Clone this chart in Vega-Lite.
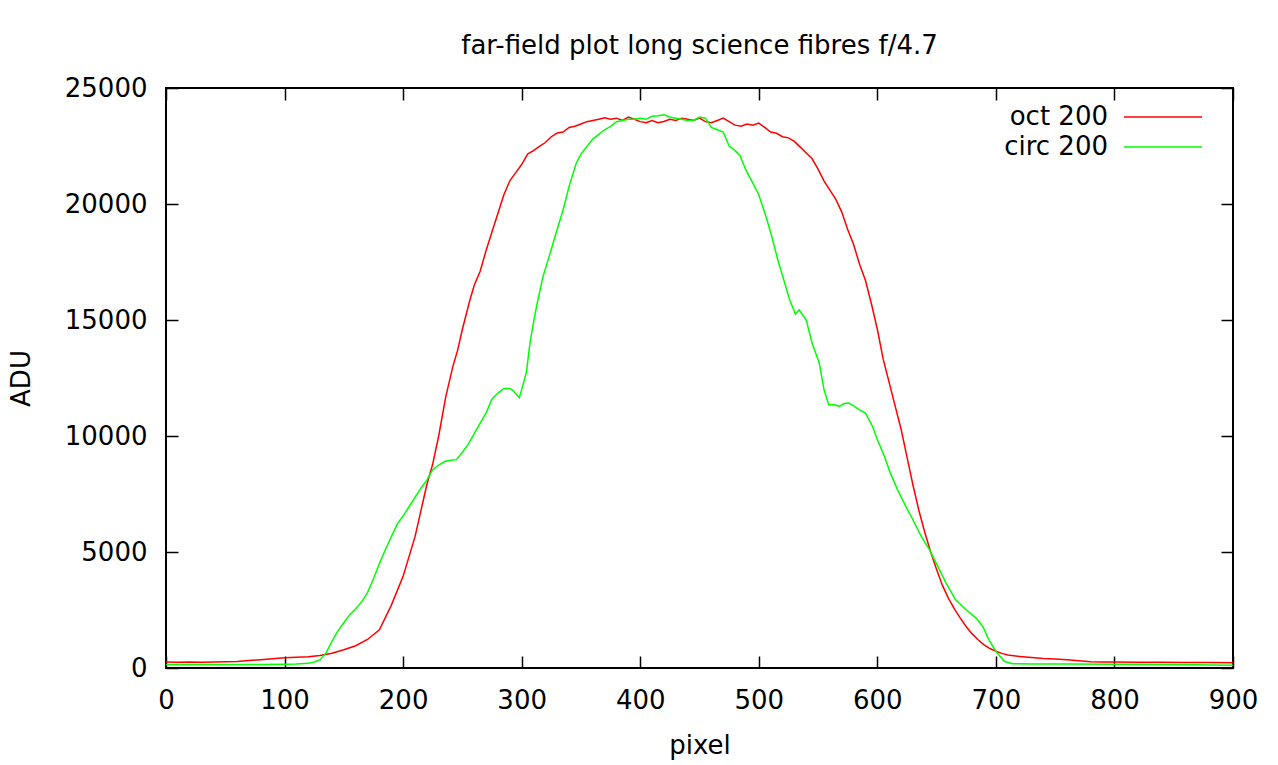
{
"$schema":"https://vega.github.io/schema/vega-lite/v6.json",
"width":1067,"height":580,
"autosize":{"type":"none"},
"padding":{"left":166,"top":88,"right":45,"bottom":97},
"background":"white",
"config":{"view":{"stroke":"black","strokeWidth":2},"font":"DejaVu Sans"},
"title":{"text":"far-field plot long science fibres f/4.7","fontSize":26,"font":"DejaVu Sans","fontWeight":"normal","color":"black","anchor":"middle","baseline":"alphabetic","offset":-5},
"data":{"values":[
{"p":0,"a":260,"s":"oct 200"},{"p":10,"a":250,"s":"oct 200"},{"p":20,"a":260,"s":"oct 200"},{"p":30,"a":250,"s":"oct 200"},{"p":40,"a":260,"s":"oct 200"},{"p":50,"a":270,"s":"oct 200"},{"p":60,"a":280,"s":"oct 200"},{"p":70,"a":320,"s":"oct 200"},{"p":80,"a":360,"s":"oct 200"},{"p":90,"a":400,"s":"oct 200"},{"p":100,"a":440,"s":"oct 200"},{"p":110,"a":460,"s":"oct 200"},{"p":120,"a":490,"s":"oct 200"},{"p":130,"a":540,"s":"oct 200"},{"p":140,"a":640,"s":"oct 200"},{"p":150,"a":790,"s":"oct 200"},{"p":160,"a":960,"s":"oct 200"},{"p":170,"a":1230,"s":"oct 200"},{"p":180,"a":1650,"s":"oct 200"},{"p":190,"a":2700,"s":"oct 200"},{"p":200,"a":3950,"s":"oct 200"},{"p":210,"a":5650,"s":"oct 200"},{"p":220,"a":7900,"s":"oct 200"},{"p":225,"a":8800,"s":"oct 200"},{"p":230,"a":10000,"s":"oct 200"},{"p":236,"a":11700,"s":"oct 200"},{"p":242,"a":13000,"s":"oct 200"},{"p":246,"a":13700,"s":"oct 200"},{"p":250,"a":14600,"s":"oct 200"},{"p":256,"a":15800,"s":"oct 200"},{"p":260,"a":16500,"s":"oct 200"},{"p":265,"a":17100,"s":"oct 200"},{"p":270,"a":18000,"s":"oct 200"},{"p":275,"a":18800,"s":"oct 200"},{"p":280,"a":19600,"s":"oct 200"},{"p":285,"a":20400,"s":"oct 200"},{"p":290,"a":21000,"s":"oct 200"},{"p":295,"a":21350,"s":"oct 200"},{"p":300,"a":21700,"s":"oct 200"},{"p":305,"a":22150,"s":"oct 200"},{"p":310,"a":22300,"s":"oct 200"},{"p":315,"a":22480,"s":"oct 200"},{"p":320,"a":22650,"s":"oct 200"},{"p":325,"a":22900,"s":"oct 200"},{"p":330,"a":23060,"s":"oct 200"},{"p":335,"a":23100,"s":"oct 200"},{"p":340,"a":23300,"s":"oct 200"},{"p":345,"a":23350,"s":"oct 200"},{"p":350,"a":23450,"s":"oct 200"},{"p":355,"a":23550,"s":"oct 200"},{"p":360,"a":23600,"s":"oct 200"},{"p":365,"a":23650,"s":"oct 200"},{"p":370,"a":23720,"s":"oct 200"},{"p":375,"a":23650,"s":"oct 200"},{"p":380,"a":23700,"s":"oct 200"},{"p":385,"a":23600,"s":"oct 200"},{"p":390,"a":23750,"s":"oct 200"},{"p":395,"a":23650,"s":"oct 200"},{"p":400,"a":23550,"s":"oct 200"},{"p":405,"a":23500,"s":"oct 200"},{"p":410,"a":23600,"s":"oct 200"},{"p":415,"a":23500,"s":"oct 200"},{"p":420,"a":23560,"s":"oct 200"},{"p":425,"a":23650,"s":"oct 200"},{"p":430,"a":23600,"s":"oct 200"},{"p":435,"a":23700,"s":"oct 200"},{"p":440,"a":23650,"s":"oct 200"},{"p":445,"a":23600,"s":"oct 200"},{"p":450,"a":23700,"s":"oct 200"},{"p":455,"a":23550,"s":"oct 200"},{"p":460,"a":23500,"s":"oct 200"},{"p":465,"a":23600,"s":"oct 200"},{"p":470,"a":23700,"s":"oct 200"},{"p":475,"a":23550,"s":"oct 200"},{"p":480,"a":23400,"s":"oct 200"},{"p":485,"a":23350,"s":"oct 200"},{"p":490,"a":23450,"s":"oct 200"},{"p":495,"a":23400,"s":"oct 200"},{"p":500,"a":23490,"s":"oct 200"},{"p":505,"a":23300,"s":"oct 200"},{"p":510,"a":23100,"s":"oct 200"},{"p":515,"a":23050,"s":"oct 200"},{"p":520,"a":22900,"s":"oct 200"},{"p":525,"a":22850,"s":"oct 200"},{"p":530,"a":22700,"s":"oct 200"},{"p":535,"a":22450,"s":"oct 200"},{"p":540,"a":22200,"s":"oct 200"},{"p":545,"a":21950,"s":"oct 200"},{"p":550,"a":21500,"s":"oct 200"},{"p":555,"a":21000,"s":"oct 200"},{"p":560,"a":20600,"s":"oct 200"},{"p":565,"a":20200,"s":"oct 200"},{"p":570,"a":19650,"s":"oct 200"},{"p":575,"a":18900,"s":"oct 200"},{"p":580,"a":18250,"s":"oct 200"},{"p":585,"a":17400,"s":"oct 200"},{"p":590,"a":16700,"s":"oct 200"},{"p":595,"a":15700,"s":"oct 200"},{"p":600,"a":14600,"s":"oct 200"},{"p":605,"a":13300,"s":"oct 200"},{"p":610,"a":12300,"s":"oct 200"},{"p":615,"a":11300,"s":"oct 200"},{"p":620,"a":10300,"s":"oct 200"},{"p":625,"a":9100,"s":"oct 200"},{"p":630,"a":7900,"s":"oct 200"},{"p":635,"a":6800,"s":"oct 200"},{"p":640,"a":5850,"s":"oct 200"},{"p":645,"a":5000,"s":"oct 200"},{"p":650,"a":4250,"s":"oct 200"},{"p":655,"a":3550,"s":"oct 200"},{"p":660,"a":3000,"s":"oct 200"},{"p":665,"a":2550,"s":"oct 200"},{"p":670,"a":2150,"s":"oct 200"},{"p":675,"a":1780,"s":"oct 200"},{"p":680,"a":1470,"s":"oct 200"},{"p":685,"a":1220,"s":"oct 200"},{"p":690,"a":1000,"s":"oct 200"},{"p":695,"a":840,"s":"oct 200"},{"p":700,"a":720,"s":"oct 200"},{"p":705,"a":630,"s":"oct 200"},{"p":710,"a":560,"s":"oct 200"},{"p":715,"a":530,"s":"oct 200"},{"p":720,"a":500,"s":"oct 200"},{"p":730,"a":450,"s":"oct 200"},{"p":740,"a":410,"s":"oct 200"},{"p":750,"a":390,"s":"oct 200"},{"p":760,"a":360,"s":"oct 200"},{"p":770,"a":310,"s":"oct 200"},{"p":780,"a":270,"s":"oct 200"},{"p":790,"a":260,"s":"oct 200"},{"p":800,"a":260,"s":"oct 200"},{"p":820,"a":250,"s":"oct 200"},{"p":840,"a":250,"s":"oct 200"},{"p":860,"a":240,"s":"oct 200"},{"p":880,"a":240,"s":"oct 200"},{"p":900,"a":230,"s":"oct 200"},
{"p":0,"a":150,"s":"circ 200"},{"p":20,"a":150,"s":"circ 200"},{"p":40,"a":150,"s":"circ 200"},{"p":60,"a":150,"s":"circ 200"},{"p":80,"a":150,"s":"circ 200"},{"p":100,"a":160,"s":"circ 200"},{"p":110,"a":170,"s":"circ 200"},{"p":120,"a":200,"s":"circ 200"},{"p":125,"a":260,"s":"circ 200"},{"p":130,"a":360,"s":"circ 200"},{"p":135,"a":650,"s":"circ 200"},{"p":140,"a":1150,"s":"circ 200"},{"p":145,"a":1600,"s":"circ 200"},{"p":150,"a":1950,"s":"circ 200"},{"p":155,"a":2300,"s":"circ 200"},{"p":160,"a":2550,"s":"circ 200"},{"p":165,"a":2850,"s":"circ 200"},{"p":170,"a":3250,"s":"circ 200"},{"p":175,"a":3850,"s":"circ 200"},{"p":180,"a":4500,"s":"circ 200"},{"p":185,"a":5100,"s":"circ 200"},{"p":190,"a":5650,"s":"circ 200"},{"p":195,"a":6200,"s":"circ 200"},{"p":200,"a":6550,"s":"circ 200"},{"p":205,"a":6950,"s":"circ 200"},{"p":210,"a":7350,"s":"circ 200"},{"p":215,"a":7750,"s":"circ 200"},{"p":220,"a":8100,"s":"circ 200"},{"p":225,"a":8550,"s":"circ 200"},{"p":230,"a":8750,"s":"circ 200"},{"p":235,"a":8900,"s":"circ 200"},{"p":240,"a":8950,"s":"circ 200"},{"p":245,"a":8980,"s":"circ 200"},{"p":250,"a":9300,"s":"circ 200"},{"p":255,"a":9650,"s":"circ 200"},{"p":260,"a":10100,"s":"circ 200"},{"p":265,"a":10550,"s":"circ 200"},{"p":270,"a":11000,"s":"circ 200"},{"p":275,"a":11600,"s":"circ 200"},{"p":280,"a":11850,"s":"circ 200"},{"p":285,"a":12050,"s":"circ 200"},{"p":290,"a":12050,"s":"circ 200"},{"p":293,"a":11950,"s":"circ 200"},{"p":298,"a":11650,"s":"circ 200"},{"p":300,"a":12000,"s":"circ 200"},{"p":304,"a":12750,"s":"circ 200"},{"p":307,"a":14000,"s":"circ 200"},{"p":310,"a":14900,"s":"circ 200"},{"p":313,"a":15700,"s":"circ 200"},{"p":318,"a":16880,"s":"circ 200"},{"p":323,"a":17700,"s":"circ 200"},{"p":329,"a":18750,"s":"circ 200"},{"p":335,"a":19750,"s":"circ 200"},{"p":340,"a":20760,"s":"circ 200"},{"p":346,"a":21760,"s":"circ 200"},{"p":350,"a":22150,"s":"circ 200"},{"p":354,"a":22410,"s":"circ 200"},{"p":360,"a":22800,"s":"circ 200"},{"p":365,"a":23000,"s":"circ 200"},{"p":370,"a":23200,"s":"circ 200"},{"p":375,"a":23350,"s":"circ 200"},{"p":380,"a":23550,"s":"circ 200"},{"p":385,"a":23600,"s":"circ 200"},{"p":390,"a":23650,"s":"circ 200"},{"p":395,"a":23650,"s":"circ 200"},{"p":400,"a":23700,"s":"circ 200"},{"p":405,"a":23650,"s":"circ 200"},{"p":410,"a":23780,"s":"circ 200"},{"p":415,"a":23800,"s":"circ 200"},{"p":420,"a":23850,"s":"circ 200"},{"p":425,"a":23750,"s":"circ 200"},{"p":430,"a":23700,"s":"circ 200"},{"p":435,"a":23650,"s":"circ 200"},{"p":440,"a":23600,"s":"circ 200"},{"p":445,"a":23600,"s":"circ 200"},{"p":450,"a":23750,"s":"circ 200"},{"p":455,"a":23700,"s":"circ 200"},{"p":460,"a":23300,"s":"circ 200"},{"p":465,"a":23200,"s":"circ 200"},{"p":470,"a":23100,"s":"circ 200"},{"p":475,"a":22500,"s":"circ 200"},{"p":480,"a":22300,"s":"circ 200"},{"p":484,"a":22100,"s":"circ 200"},{"p":489,"a":21480,"s":"circ 200"},{"p":495,"a":20900,"s":"circ 200"},{"p":500,"a":20400,"s":"circ 200"},{"p":506,"a":19470,"s":"circ 200"},{"p":511,"a":18600,"s":"circ 200"},{"p":516,"a":17600,"s":"circ 200"},{"p":521,"a":16740,"s":"circ 200"},{"p":526,"a":15870,"s":"circ 200"},{"p":531,"a":15250,"s":"circ 200"},{"p":534,"a":15440,"s":"circ 200"},{"p":540,"a":15000,"s":"circ 200"},{"p":545,"a":14000,"s":"circ 200"},{"p":551,"a":13150,"s":"circ 200"},{"p":555,"a":12000,"s":"circ 200"},{"p":559,"a":11350,"s":"circ 200"},{"p":564,"a":11350,"s":"circ 200"},{"p":568,"a":11280,"s":"circ 200"},{"p":572,"a":11400,"s":"circ 200"},{"p":576,"a":11420,"s":"circ 200"},{"p":580,"a":11300,"s":"circ 200"},{"p":585,"a":11130,"s":"circ 200"},{"p":590,"a":10990,"s":"circ 200"},{"p":596,"a":10410,"s":"circ 200"},{"p":600,"a":9850,"s":"circ 200"},{"p":606,"a":9120,"s":"circ 200"},{"p":611,"a":8400,"s":"circ 200"},{"p":617,"a":7690,"s":"circ 200"},{"p":624,"a":6970,"s":"circ 200"},{"p":630,"a":6390,"s":"circ 200"},{"p":637,"a":5670,"s":"circ 200"},{"p":644,"a":5100,"s":"circ 200"},{"p":651,"a":4380,"s":"circ 200"},{"p":658,"a":3660,"s":"circ 200"},{"p":666,"a":2940,"s":"circ 200"},{"p":675,"a":2510,"s":"circ 200"},{"p":683,"a":2160,"s":"circ 200"},{"p":689,"a":1790,"s":"circ 200"},{"p":694,"a":1220,"s":"circ 200"},{"p":700,"a":720,"s":"circ 200"},{"p":707,"a":290,"s":"circ 200"},{"p":714,"a":185,"s":"circ 200"},{"p":730,"a":170,"s":"circ 200"},{"p":760,"a":170,"s":"circ 200"},{"p":800,"a":160,"s":"circ 200"},{"p":850,"a":150,"s":"circ 200"},{"p":900,"a":120,"s":"circ 200"}
]},
"layer":[
{"mark":{"type":"line","strokeWidth":1.5},
 "encoding":{
  "x":{"field":"p","type":"quantitative","title":"pixel","scale":{"domain":[0,900],"nice":false,"zero":false},
       "axis":{"orient":"bottom","values":[0,100,200,300,400,500,600,700,800,900],"format":"d","grid":false,"domain":false,"tickSize":-12,"tickColor":"black","tickWidth":1.5,"labelFont":"DejaVu Sans","labelFontSize":26,"labelColor":"black","labelPadding":31,"labelFlush":false,"titleFont":"DejaVu Sans","titleFontSize":26,"titleFontWeight":"normal","titleColor":"black","titlePadding":19}},
  "y":{"field":"a","type":"quantitative","title":"ADU","scale":{"domain":[0,25000],"nice":false},
       "axis":{"orient":"left","values":[0,5000,10000,15000,20000,25000],"format":"d","grid":false,"domain":false,"tickSize":-12,"tickColor":"black","tickWidth":1.5,"labelFont":"DejaVu Sans","labelFontSize":26,"labelColor":"black","labelPadding":31,"labelFlush":false,"titleFont":"DejaVu Sans","titleFontSize":26,"titleFontWeight":"normal","titleColor":"black","titlePadding":30}},
  "color":{"field":"s","type":"nominal","scale":{"domain":["oct 200","circ 200"],"range":["#ff0000","#00ff00"]},
       "legend":{"title":null,"orient":"none","legendX":984,"legendY":16,"padding":0,"symbolType":"M-4,0H4","symbolSize":380,"symbolStrokeWidth":1.5,"symbolFillColor":"transparent","labelAlign":"right","labelOffset":-68,"labelFont":"DejaVu Sans","labelFontSize":26,"labelColor":"black","rowPadding":4}}
 }},
{"mark":{"type":"line","strokeOpacity":0},
 "encoding":{
  "x":{"field":"p","type":"quantitative","axis":{"orient":"top","values":[0,100,200,300,400,500,600,700,800,900],"grid":false,"domain":false,"labels":false,"title":null,"tickSize":-12,"tickColor":"black","tickWidth":1.5}},
  "y":{"field":"a","type":"quantitative","axis":{"orient":"right","values":[0,5000,10000,15000,20000,25000],"grid":false,"domain":false,"labels":false,"title":null,"tickSize":-12,"tickColor":"black","tickWidth":1.5}},
  "detail":{"field":"s","type":"nominal"}
 }}
],
"resolve":{"axis":{"x":"independent","y":"independent"}}
}
